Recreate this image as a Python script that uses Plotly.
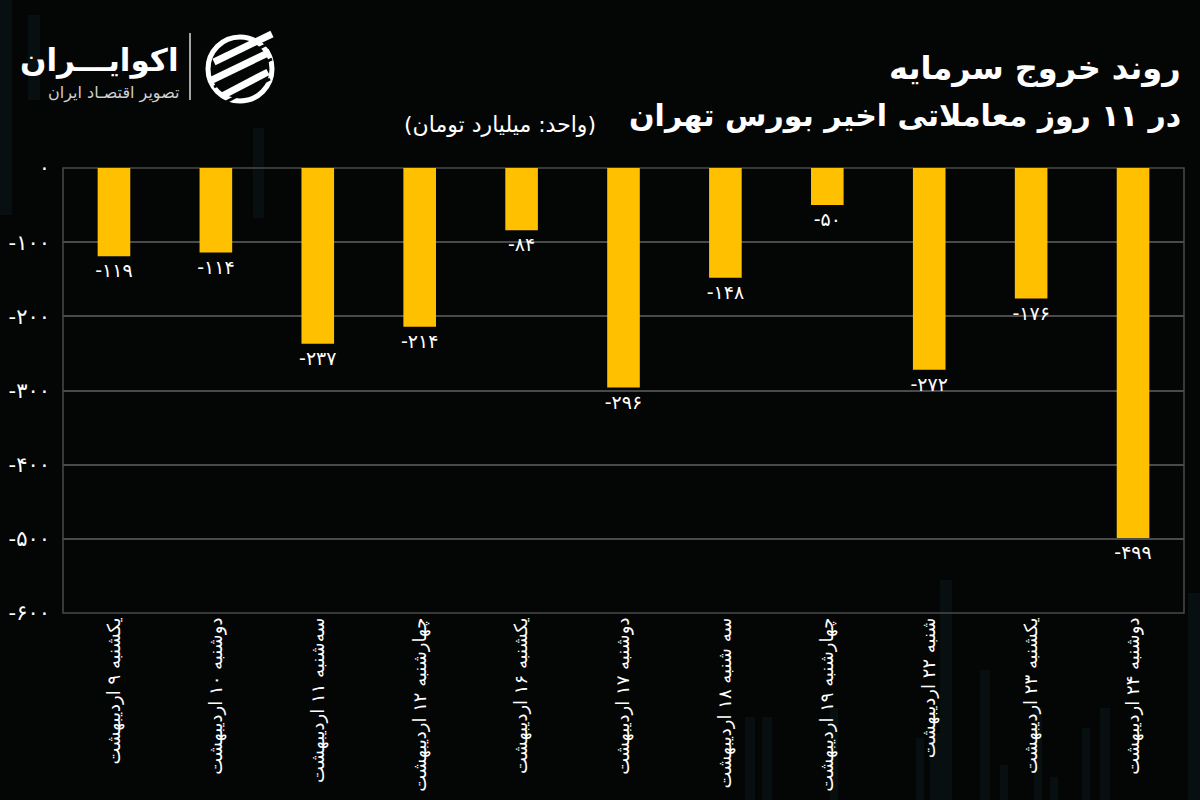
import plotly.graph_objects as go

# ---------------- data ----------------
categories = [
    "یکشنبه ۹ اردیبهشت",
    "دوشنبه ۱۰ اردیبهشت",
    "سه‌شنبه ۱۱ اردیبهشت",
    "چهارشنبه ۱۲ اردیبهشت",
    "یکشنبه ۱۶ اردیبهشت",
    "دوشنبه ۱۷ اردیبهشت",
    "سه شنبه ۱۸ اردیبهشت",
    "چهارشنبه ۱۹ اردیبهشت",
    "شنبه ۲۲ اردیبهشت",
    "یکشنبه ۲۳ اردیبهشت",
    "دوشنبه ۲۴ اردیبهشت",
]
values = [-119, -114, -237, -214, -84, -296, -148, -50, -272, -176, -499]
y_tickvals = [0, -100, -200, -300, -400, -500, -600]

title_line1 = "روند خروج سرمایه"
title_line2 = "در ۱۱ روز معاملاتی اخیر بورس تهران"
subtitle = "(واحد: میلیارد تومان)"
brand = "اکوایـــران"
tagline = "تصویر اقتصـاد ایران"

# ---------------- helpers ----------------
FA_DIGITS = str.maketrans("0123456789", "۰۱۲۳۴۵۶۷۸۹")


def fa(n):
    return str(n).translate(FA_DIGITS)


W, H = 1200, 800
L, R, T, B = 63, 16, 168, 187
PW, PH = W - L - R, H - T - B


def px(x):
    return (x - L) / PW


def py(y):
    return (H - B - y) / PH


FONT = "DejaVu Sans"
GOLD = "#FFC000"
BG = "#040505"
GRID = "#4a4a4a"

fig = go.Figure()
fig.add_trace(
    go.Bar(
        x=categories,
        y=values,
        width=0.32,
        marker=dict(color=GOLD, line=dict(width=0)),
        text=[fa(v) for v in values],
        textposition="outside",
        constraintext="none",
        cliponaxis=False,
        textfont=dict(family=FONT, size=19, color="white"),
        hoverinfo="skip",
    )
)

shapes = []
# faint decorative background bars
deco = [
    (0, 12, 0, 215), (253, 264, 128, 218), (28, 40, 15, 100),
    (745, 755, 717, 800), (762, 772, 717, 800), (830, 838, 708, 800),
    (916, 924, 738, 800), (930, 940, 733, 800), (940, 952, 580, 800),
    (980, 990, 670, 800), (1000, 1008, 765, 800), (1034, 1042, 708, 800),
    (1050, 1058, 777, 800), (1082, 1090, 728, 800), (1100, 1110, 708, 800),
    (1188, 1200, 593, 800),
]
for x0, x1, y0, y1 in deco:
    shapes.append(dict(type="rect", xref="paper", yref="paper",
                       x0=px(x0), x1=px(x1), y0=py(y1), y1=py(y0),
                       fillcolor="rgba(25,60,70,0.18)", line=dict(width=0),
                       layer="below"))
# plot frame
shapes.append(dict(type="rect", xref="paper", yref="paper", x0=0, x1=1, y0=0, y1=1,
                   line=dict(color=GRID, width=1.5), fillcolor="rgba(0,0,0,0)",
                   layer="below"))
# logo divider
shapes.append(dict(type="line", xref="paper", yref="paper",
                   x0=px(190), x1=px(190), y0=py(33), y1=py(100),
                   line=dict(color="#d8d8d8", width=1.5)))
# logo icon: circle + three diagonal strokes
shapes.append(dict(type="circle", xref="paper", yref="paper",
                   x0=px(208), x1=px(272), y0=py(101), y1=py(37),
                   line=dict(color="white", width=5)))
for (a, b, c, d) in [(214, 62, 272, 34), (212, 80, 270, 52), (222, 96, 268, 72)]:
    shapes.append(dict(type="line", xref="paper", yref="paper",
                       x0=px(a), y0=py(b), x1=px(c), y1=py(d),
                       line=dict(color="white", width=7)))
    shapes.append(dict(type="line", xref="paper", yref="paper",
                       x0=px(a + 2), y0=py(b + 7), x1=px(c + 2), y1=py(d + 7),
                       line=dict(color=BG, width=3)))

annotations = [
    dict(text=f"<b>{title_line1}</b>", x=px(1183), y=py(68), xref="paper", yref="paper",
         xanchor="right", yanchor="middle", showarrow=False,
         font=dict(family=FONT, size=32, color="white")),
    dict(text=f"<b>{title_line2}</b>", x=px(1183), y=py(116), xref="paper", yref="paper",
         xanchor="right", yanchor="middle", showarrow=False,
         font=dict(family=FONT, size=30, color="white")),
    dict(text=subtitle, x=px(598), y=py(124), xref="paper", yref="paper",
         xanchor="right", yanchor="middle", showarrow=False,
         font=dict(family=FONT, size=22, color="white")),
    dict(text=f"<b>{brand}</b>", x=px(181), y=py(60), xref="paper", yref="paper",
         xanchor="right", yanchor="middle", showarrow=False,
         font=dict(family=FONT, size=31, color="white")),
    dict(text=tagline, x=px(181), y=py(93), xref="paper", yref="paper",
         xanchor="right", yanchor="middle", showarrow=False,
         font=dict(family=FONT, size=16, color="#d0d0d0")),
]

fig.update_layout(
    width=W, height=H,
    margin=dict(l=L, r=R, t=T, b=B, pad=0, autoexpand=False),
    paper_bgcolor=BG,
    plot_bgcolor="rgba(0,0,0,0)",
    showlegend=False,
    shapes=shapes,
    annotations=annotations,
    bargap=0.68,
)
fig.update_xaxes(
    type="category",
    tickangle=-90,
    tickfont=dict(family=FONT, size=18, color="white"),
    showgrid=False,
    showline=False,
    ticks="",
    ticklen=0,
    automargin=False,
)
fig.update_yaxes(
    range=[-600, 0],
    tickvals=y_tickvals,
    ticktext=[fa(v) for v in y_tickvals],
    tickfont=dict(family=FONT, size=21, color="white"),
    showgrid=True,
    gridcolor=GRID,
    gridwidth=1.5,
    zeroline=False,
    showline=False,
    ticks="",
    ticklabelstandoff=12,
    automargin=False,
)

fig.write_html("out.html")
